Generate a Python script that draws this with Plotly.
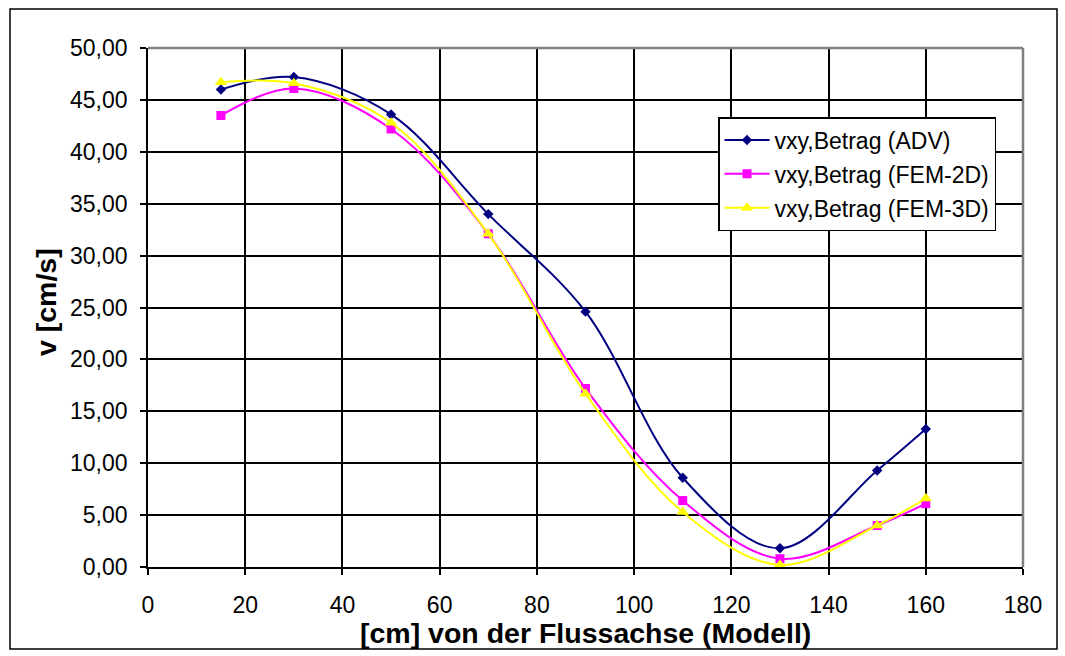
import plotly.graph_objects as go

x_vals = [15, 30, 50, 70, 90, 110, 130, 150, 160]
adv = [46.0, 47.2, 43.6, 34.0, 24.6, 8.6, 1.8, 9.3, 13.3]
fem2d = [43.5, 46.1, 42.2, 32.1, 17.2, 6.4, 0.8, 4.0, 6.1]
fem3d = [46.7, 46.6, 42.8, 32.1, 16.7, 5.3, 0.2, 4.0, 6.6]

names = ["vxy,Betrag (ADV)", "vxy,Betrag (FEM-2D)", "vxy,Betrag (FEM-3D)"]
colors = ["#000080", "#FF00FF", "#FFFF00"]
symbols = ["diamond", "square", "triangle-up"]
msizes = [8, 9, 11]

FONT = "Liberation Sans, Arial, sans-serif"

fig = go.Figure()
for i, ys in enumerate([adv, fem2d, fem3d]):
    fig.add_trace(go.Scatter(
        x=x_vals, y=ys, name=names[i], mode="lines+markers",
        line=dict(color=colors[i], width=2, shape="spline", smoothing=1.0),
        marker=dict(symbol=symbols[i], size=msizes[i], color=colors[i]),
        legendgroup=f"g{i}",
    ))

W, H = 1065, 656
L, R, T, B = 148, 1023, 48, 567
pw, ph = R - L, B - T

def px(xp):
    return (xp - L) / pw

def py(yp):
    return (B - yp) / ph

fig.update_layout(
    width=W, height=H,
    margin=dict(l=L, r=W - R, t=T, b=H - B),
    paper_bgcolor="white", plot_bgcolor="white",
    separators=",.",
    font=dict(family=FONT, size=23, color="black"),
    showlegend=True,
    legend=dict(
        x=px(718), y=py(117), xanchor="left", yanchor="top",
        bgcolor="white", bordercolor="black", borderwidth=1.5,
        font=dict(family=FONT, size=23, color="black"),
        tracegroupgap=1, itemwidth=45,
    ),
    xaxis=dict(
        range=[0, 180], dtick=20, tick0=0,
        showgrid=True, gridcolor="black", gridwidth=1.6,
        showline=True, linecolor="black", linewidth=1.6,
        ticks="outside", ticklen=6, tickwidth=1.6, tickcolor="black",
        ticklabelstandoff=11, zeroline=False,
    ),
    yaxis=dict(
        range=[0, 50], dtick=5, tick0=0, tickformat=".2f",
        showgrid=True, gridcolor="black", gridwidth=1.6,
        showline=True, linecolor="black", linewidth=1.6,
        ticks="outside", ticklen=6, tickwidth=1.6, tickcolor="black",
        ticklabelstandoff=8, zeroline=False,
    ),
    shapes=[
        dict(type="line", xref="paper", yref="paper", x0=0, x1=1, y0=1, y1=1,
             line=dict(color="#808080", width=2.5)),
        dict(type="line", xref="paper", yref="paper", x0=1, x1=1, y0=0, y1=1,
             line=dict(color="#808080", width=2.5)),
        dict(type="rect", xref="paper", yref="paper",
             x0=px(10), x1=px(1057), y0=py(649), y1=py(9),
             line=dict(color="black", width=1.5), fillcolor="rgba(0,0,0,0)"),
    ],
    annotations=[
        dict(text="<b>[cm] von der Flussachse (Modell)</b>", xref="paper", yref="paper",
             x=px(585), y=py(633), xanchor="center", yanchor="middle", showarrow=False,
             font=dict(family=FONT, size=28.5, color="black")),
        dict(text="<b>v [cm/s]</b>", xref="paper", yref="paper", textangle=-90,
             x=px(46), y=py(302), xanchor="center", yanchor="middle", showarrow=False,
             font=dict(family=FONT, size=28.5, color="black")),
    ],
)

fig.write_html(
    "out.html",
    config={"displayModeBar": False},
    post_script="document.body.style.margin='0';document.documentElement.style.overflow='hidden';document.body.style.overflow='hidden';",
)
